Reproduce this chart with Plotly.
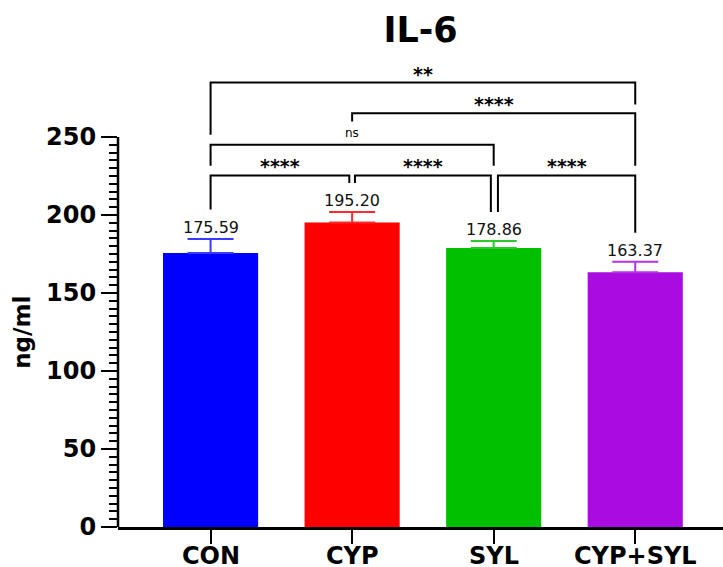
import plotly.graph_objects as go

# ---- data ----
categories = ["CON", "CYP", "SYL", "CYP+SYL"]
means = [175.59, 195.20, 178.86, 163.37]
errors = [9.1, 6.8, 4.4, 6.7]
value_labels = ["175.59", "195.20", "178.86", "163.37"]
bar_colors = ["#0000FF", "#FF0000", "#00C000", "#AA0BE0"]
err_colors = ["#3A3AFF", "#FF2A2A", "#2CC82C", "#B530E6"]

y_tick_vals = [0, 50, 100, 150, 200, 250]
y_minor_vals = [v for v in range(0, 251, 5) if v % 50 != 0]

# significance comparisons: (left index, right index, label)
comparisons = [
    (0, 3, "**"),
    (1, 3, "****"),
    (0, 2, "ns"),
    (0, 1, "****"),
    (1, 2, "****"),
    (2, 3, "****"),
]
# bracket geometry (data units): x-left, x-right, bar level, left-leg bottom, right-leg bottom, label y
bracket_geom = [
    (0.0, 3.0, 285.0, 251.4, 270.9, 290.6),
    (1.0, 3.0, 265.2, 259.9, 231.6, 271.3),
    (0.0, 2.0, 245.0, 231.6, 231.6, 252.4),
    (0.0, 0.98, 225.4, 203.5, 220.5, 231.6),
    (1.02, 1.98, 225.4, 220.5, 202.0, 231.6),
    (2.03, 3.0, 225.4, 202.0, 188.6, 231.6),
]

FONT = "DejaVu Sans, Verdana, sans-serif"

fig = go.Figure()
for i, cat in enumerate(categories):
    fig.add_trace(go.Bar(
        x=[i], y=[means[i]], width=0.672,
        marker=dict(color=bar_colors[i], line=dict(width=0)),
        error_y=dict(type="data", array=[errors[i]], arrayminus=[0], symmetric=False,
                     color=err_colors[i], thickness=2, width=23),
        showlegend=False, hoverinfo="skip",
    ))
    fig.add_annotation(x=i, y=means[i] + errors[i], text=value_labels[i],
                       showarrow=False, yanchor="bottom", yshift=0,
                       font=dict(family=FONT, size=16, color="#111111"))
    fig.add_annotation(x=i, xref="x", yref="paper", y=0, text=f"<b>{cat}</b>",
                       showarrow=False, yanchor="top", yshift=-13,
                       font=dict(family=FONT, size=24, color="black"))

shapes = []
# y axis line only to 250
shapes.append(dict(type="line", xref="paper", yref="y", x0=0, x1=0, y0=0, y1=250,
                   line=dict(color="black", width=2.5)))
for (xl, xr, lvl, bl, br, ly), (a, b, lab) in zip(bracket_geom, comparisons):
    shapes.append(dict(type="path", xref="x", yref="y",
                       path=f"M {xl},{bl} L {xl},{lvl} L {xr},{lvl} L {xr},{br}",
                       line=dict(color="black", width=2)))
    is_ns = lab == "ns"
    fig.add_annotation(x=(xl + xr) / 2, y=ly, text=lab if is_ns else f"<b>{lab}</b>",
                       showarrow=False, yanchor="middle",
                       font=dict(family=FONT, size=12 if is_ns else 19, color="black"))

fig.add_annotation(xref="paper", yref="y", x=-0.159, y=125, text="<b>ng/ml</b>",
                   textangle=-90, showarrow=False, xanchor="center", yanchor="middle",
                   font=dict(family=FONT, size=23, color="black"))

fig.update_layout(
    width=723, height=567,
    margin=dict(l=118, r=0, t=59, b=40),
    paper_bgcolor="white", plot_bgcolor="white",
    barmode="overlay",
    shapes=shapes,
    title=dict(text="<b>IL-6</b>", x=0.5, xref="paper", y=1 - 30 / 567, yanchor="middle",
               automargin=False,
               font=dict(family=FONT, size=35, color="black")),
    xaxis=dict(range=[-0.654, 3.62], tickmode="array", tickvals=list(range(len(categories))),
               ticktext=["" for c in categories], automargin=False,
               showline=True, linecolor="black", linewidth=2.5,
               ticks="outside", ticklen=14, tickwidth=2, tickcolor="black",
               showgrid=False, zeroline=False),
    yaxis=dict(range=[0, 300], tickmode="array", tickvals=y_tick_vals,
               ticktext=[f"<b>{v}</b>" for v in y_tick_vals], automargin=False,
               showline=False, ticks="outside", ticklen=16, tickwidth=2, tickcolor="black",
               showgrid=False, zeroline=False,
               tickfont=dict(family=FONT, size=24, color="black"),
               minor=dict(tickmode="array", tickvals=y_minor_vals, ticks="outside",
                          ticklen=8, tickwidth=1.5, tickcolor="black", showgrid=False)),
)

fig.write_html("out.html", post_script="document.body.style.margin='0';",
               config={"displayModeBar": False})
